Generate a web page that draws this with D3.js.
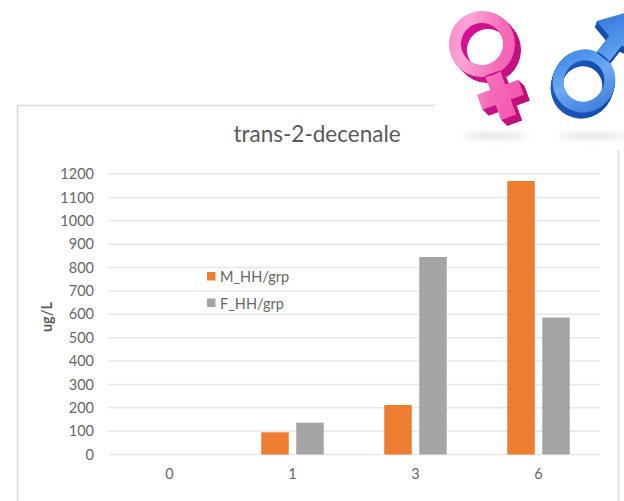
<!DOCTYPE html>
<html>
<head>
<meta charset="utf-8">
<script src="https://cdn.jsdelivr.net/npm/d3@7/dist/d3.min.js"></script>
<style>
html,body{margin:0;padding:0;background:#fff}
svg{display:block}
text{font-family:Lato,sans-serif}
</style>
</head>
<body>
<svg id="chart" width="624" height="501"></svg>
<script>
const categories = ["0", "1", "3", "6"];
const seriesNames = ["M_HH/grp", "F_HH/grp"];
const maleValues = [0, 95, 212, 1170];
const femaleValues = [0, 136, 845, 586];
const yTicks = [0, 100, 200, 300, 400, 500, 600, 700, 800, 900, 1000, 1100, 1200];
const seriesColors = ["#ed7d31", "#a5a5a5"];
const chartTitle = "trans-2-decenale";
const yAxisTitle = "ug/L";

const svg = d3.select("#chart");
const plot = {left: 108, right: 600, top: 174, bottom: 454.5};

// Chart frame, open where the emblem overlaps its top right corner
svg.append("path")
  .attr("d", "M435,105.5H17.5V501M618.5,150V501")
  .attr("fill", "none").attr("stroke", "#d9d9d9").attr("stroke-width", 1.6);

const x = d3.scaleBand().domain(categories).range([plot.left, plot.right]).padding(0);
const y = d3.scaleLinear().domain([0, 1200]).range([plot.bottom, plot.top]);
const groupHalf = 31.25;
const xInner = d3.scaleBand().domain(seriesNames).range([-groupHalf, groupHalf]).paddingInner(0.214);

// Horizontal gridlines
svg.append("g").selectAll("line").data(yTicks).join("line")
  .attr("x1", plot.left).attr("x2", plot.right)
  .attr("y1", d => y(d)).attr("y2", d => y(d))
  .attr("stroke", "#e8e8e8").attr("stroke-width", 1.5);

// Tick labels drawn through the D3 axes
const yAxis = svg.append("g").attr("transform", `translate(${plot.left},0)`)
  .call(d3.axisLeft(y).tickValues(yTicks).tickFormat(d3.format("d")).tickSize(0).tickPadding(14));
const xAxis = svg.append("g").attr("transform", `translate(0,${plot.bottom})`)
  .call(d3.axisBottom(x).tickSize(0).tickPadding(14));
[yAxis, xAxis].forEach(a => {
  a.select(".domain").remove();
  a.selectAll("text").attr("fill", "#666").style("font-size", "14.5px")
    .style("font-family", "Lato,sans-serif");
});

// Grouped bars
const seriesValues = [maleValues, femaleValues];
seriesNames.forEach((name, s) => {
  svg.append("g").selectAll("rect").data(categories.filter((c, i) => seriesValues[s][i] > 0)).join("rect")
    .attr("x", c => x(c) + x.bandwidth() / 2 + xInner(name))
    .attr("width", xInner.bandwidth())
    .attr("y", c => y(seriesValues[s][categories.indexOf(c)]))
    .attr("height", c => plot.bottom - y(seriesValues[s][categories.indexOf(c)]))
    .attr("fill", seriesColors[s]);
});

// Chart title and axis title
svg.append("text").attr("x", 317).attr("y", 142).attr("text-anchor", "middle")
  .attr("fill", "#595959").style("font-size", "22.5px").text(chartTitle);
svg.append("text").attr("transform", "translate(52,317) rotate(-90)").attr("text-anchor", "middle")
  .attr("fill", "#595959").style("font-size", "14.5px").style("font-weight", 700).text(yAxisTitle);

// Legend placed inside the plot area
const legend = svg.append("g").selectAll("g").data(seriesNames).join("g")
  .attr("transform", (d, i) => `translate(207,${272 + i * 26.5})`);
legend.append("rect").attr("width", 8.5).attr("height", 8.5).attr("fill", (d, i) => seriesColors[i]);
legend.append("text").attr("x", 13).attr("y", 10).attr("fill", "#666")
  .style("font-size", "14.5px").text(d => d);

// Emblems: extruded female and male symbols with soft ground shadows
const defs = svg.append("defs");
const blur = defs.append("filter").attr("id", "soft").attr("x", "-20%").attr("y", "-300%")
  .attr("width", "140%").attr("height", "700%");
blur.append("feGaussianBlur").attr("stdDeviation", "3");
const addGradient = (id, stops, x1, y1, x2, y2) => {
  const g = defs.append("linearGradient").attr("id", id)
    .attr("x1", x1).attr("y1", y1).attr("x2", x2).attr("y2", y2);
  stops.forEach(([o, c]) => g.append("stop").attr("offset", o).attr("stop-color", c));
};
addGradient("pinkFace", [[0, "#f27cc4"], [0.25, "#fba6d6"], [0.55, "#f66bb9"], [1, "#f04aa8"]], "0", "0", "1", "1");
addGradient("pinkSide", [[0, "#e0119c"], [1, "#b50f72"]], "0", "0", "1", "1");
addGradient("blueFace", [[0, "#2a6bd2"], [0.4, "#4d93ea"], [0.6, "#6fa9ef"], [1, "#2f74da"]], "0", "0", "1", "1");
addGradient("blueSide", [[0, "#1d5cc2"], [1, "#123f98"]], "0", "1", "1", "0");

const circle = (cx, cy, rx, ry) =>
  `M${cx - rx},${cy}A${rx},${ry} 0 1 0 ${cx + rx},${cy}A${rx},${ry} 0 1 0 ${cx - rx},${cy}Z`;

const drawSymbol = (cx, cy, angle, d, side, face, dx, dy) => {
  const g = svg.append("g");
  d3.range(8, 0, -1).forEach(k => {
    g.append("path").attr("d", d).attr("fill", `url(#${side})`).attr("fill-rule", "evenodd")
      .attr("transform", `translate(${cx + dx * k / 8},${cy + dy * k / 8}) rotate(${angle})`);
  });
  g.append("path").attr("d", d).attr("fill", `url(#${face})`).attr("fill-rule", "evenodd")
    .attr("transform", `translate(${cx},${cy}) rotate(${angle})`);
};

// White panel that holds both emblems
svg.append("rect").attr("x", 436).attr("y", 0).attr("width", 188).attr("height", 149).attr("fill", "#fff");

svg.append("ellipse").attr("cx", 495).attr("cy", 136).attr("rx", 32).attr("ry", 1.5)
  .attr("fill", "#c4c4c4").attr("filter", "url(#soft)");
svg.append("ellipse").attr("cx", 592).attr("cy", 136).attr("rx", 34).attr("ry", 1.5)
  .attr("fill", "#c4c4c4").attr("filter", "url(#soft)");

const femalePath = circle(0, 0, 33, 33) + circle(0, 0, 21, 21)
  + "M-8,31V46H-22V62H-8V78H8V62H22V46H8V31Z";
drawSymbol(482, 44, -20, femalePath, "pinkSide", "pinkFace", 6, 6);

const malePath = circle(0, 0, 31, 32) + circle(0, 0, 20, 21)
  + "M-8,-30V-51L-27,-55L0,-92L27,-55L8,-51V-30Z";
drawSymbol(584, 81, 38, malePath, "blueSide", "blueFace", -2, 6);
</script>
</body>
</html>
